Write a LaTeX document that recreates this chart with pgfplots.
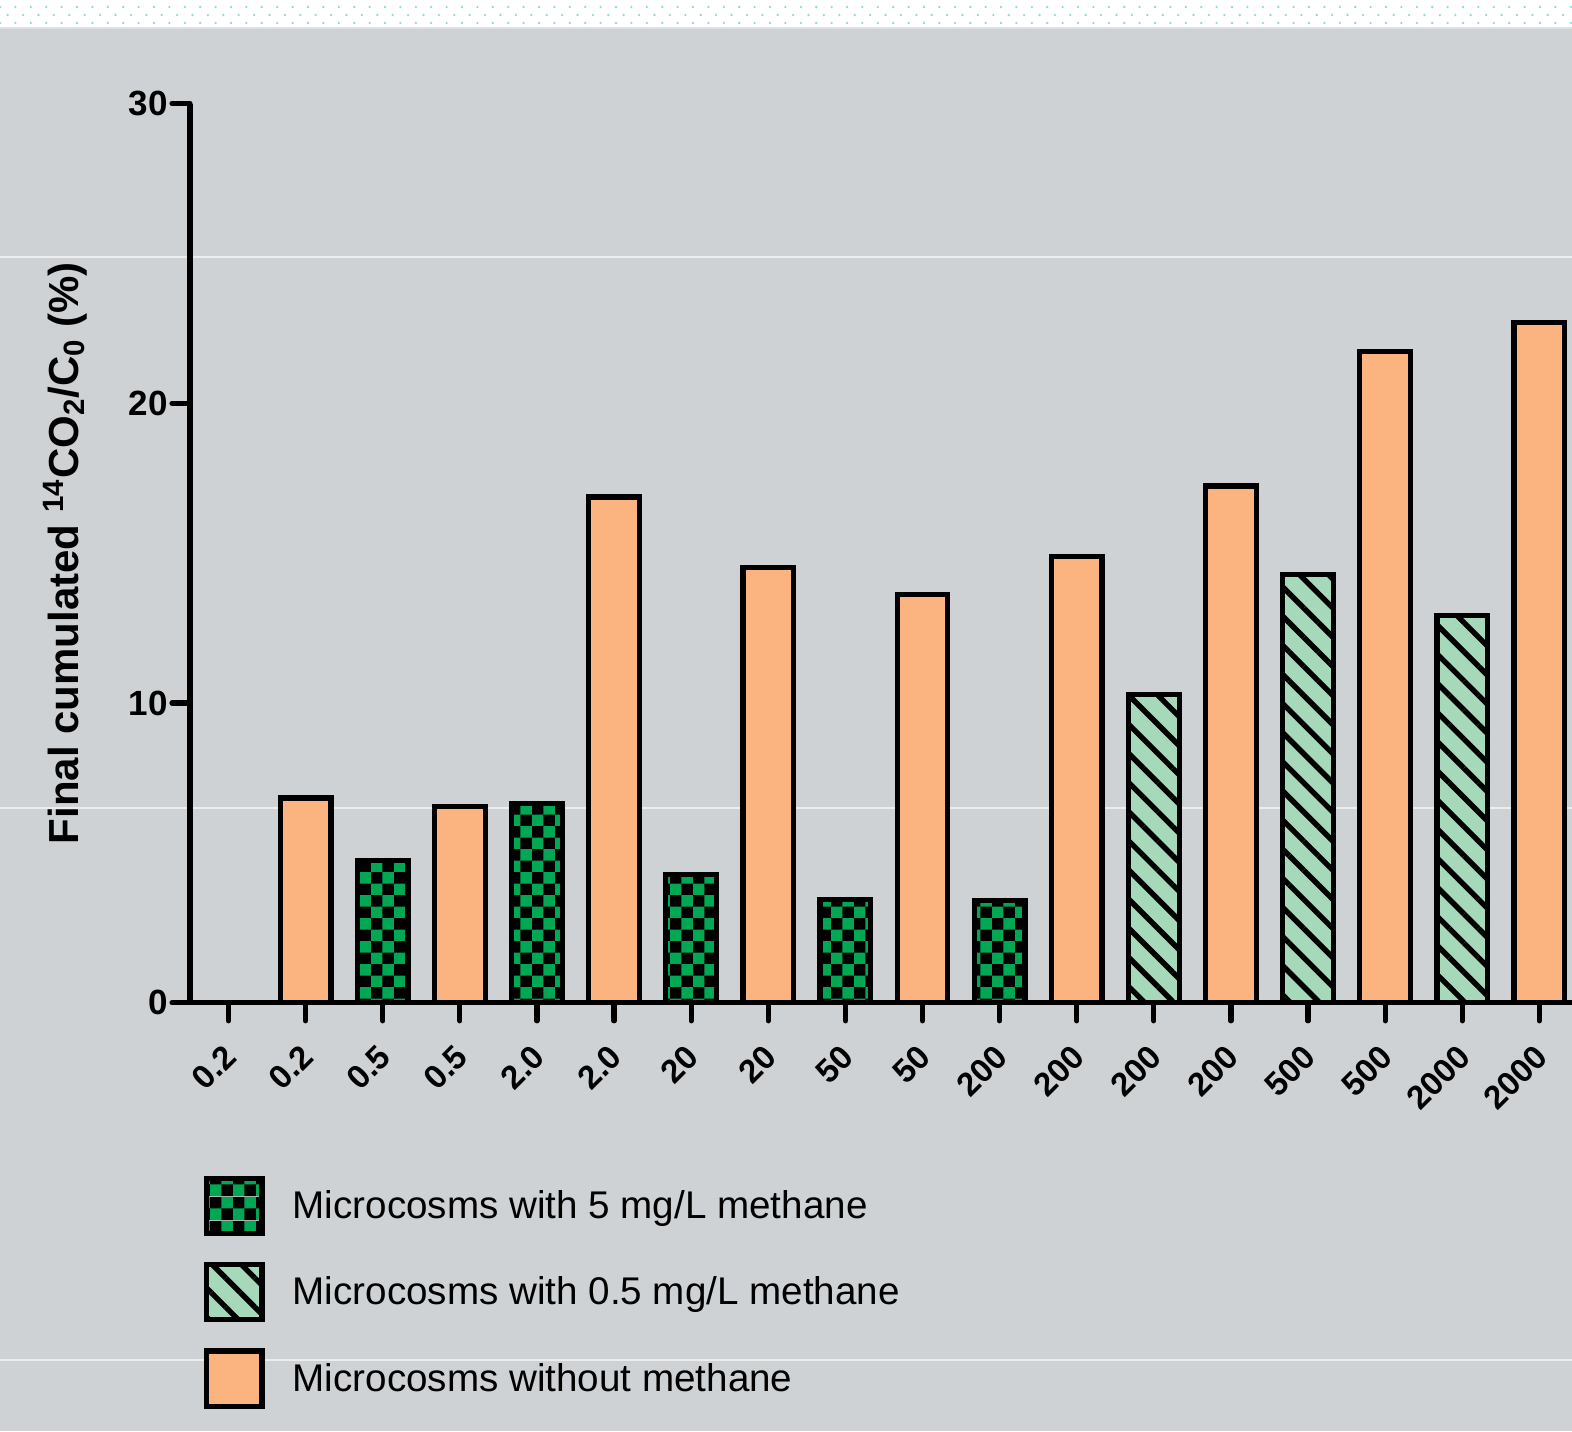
\documentclass[border=0pt]{standalone}
\usepackage{fontspec}
\setmainfont{Liberation Sans}
\usepackage{pgfplots}
\pgfplotsset{compat=1.18}
\usetikzlibrary{patterns,patterns.meta}

\definecolor{bgGray}{RGB}{206,210,213}
\definecolor{barOrange}{RGB}{251,179,128}
\definecolor{checkGreen}{RGB}{0,168,84}
\definecolor{hatchGreen}{RGB}{166,217,185}
\definecolor{dotCyan}{RGB}{150,214,220}
\definecolor{stripLine}{RGB}{222,225,227}

% black/green checkerboard used for the 5 mg/L series
\pgfdeclarepatterninherentlycolored{checker}{\pgfpointorigin}{\pgfqpoint{11.7pt}{11.7pt}}{\pgfqpoint{11.7pt}{11.7pt}}{%
  \pgfsetfillcolor{black}%
  \pgfpathrectangle{\pgfpointorigin}{\pgfqpoint{11.7pt}{11.7pt}}%
  \pgfusepath{fill}%
  \pgfsetfillcolor{checkGreen}%
  \pgfpathrectangle{\pgfpointorigin}{\pgfqpoint{5.85pt}{5.85pt}}%
  \pgfpathrectangle{\pgfqpoint{5.85pt}{5.85pt}}{\pgfqpoint{5.85pt}{5.85pt}}%
  \pgfusepath{fill}%
}

% staggered dots for the header strip
\pgfdeclarepatternformonly{stripdots}{\pgfqpoint{-1pt}{-1pt}}{\pgfqpoint{8.7pt}{9pt}}{\pgfqpoint{7.7pt}{8pt}}{%
  \pgfpathcircle{\pgfqpoint{0pt}{0pt}}{0.65pt}%
  \pgfpathcircle{\pgfqpoint{3.85pt}{4pt}}{0.65pt}%
  \pgfusepath{fill}%
}

\pgfplotstableread{
x y
0 0
2 4.75
4 6.66
6 4.29
8 3.45
10 3.41
}\withfive

\pgfplotstableread{
x y
12 10.28
14 14.30
16 12.92
}\withhalf

\pgfplotstableread{
x y
1 6.83
3 6.56
5 16.87
7 14.53
9 13.63
11 14.90
13 17.24
15 21.73
17 22.70
}\without

\pgfplotsset{
  barlegend/.style={legend image code/.code={%
      \draw[##1, line width=2.6pt] (0pt,-13.8pt) rectangle (27.6pt,13.8pt);}},
  mybar/.style={ybar, bar width=0.657, bar shift=0pt, draw=black, line width=2.6pt},
}

\begin{document}
\begin{tikzpicture}
\useasboundingbox (0pt,0pt) rectangle (786pt,715.5pt);
\clip (0pt,0pt) rectangle (786pt,715.5pt);
\fill[bgGray] (0pt,0pt) rectangle (786pt,715.5pt);
% header strip
\fill[white] (0pt,701.5pt) rectangle (786pt,715.5pt);
\fill[pattern=stripdots, pattern color=dotCyan] (0pt,701.5pt) rectangle (786pt,715.5pt);
\draw[stripLine, line width=1pt] (0pt,701.5pt) -- (786pt,701.5pt);
% faint light rules across the background
\foreach \yy in {587pt,311.5pt,35.5pt}
  \draw[white, opacity=0.6, line width=0.7pt] (0pt,\yy) -- (786pt,\yy);

\begin{axis}[
  at={(95pt,214.1pt)}, anchor=south west,
  scale only axis, width=697.8pt, height=449.65pt,
  xmin=-0.5, xmax=17.6, ymin=0, ymax=30,
  axis x line=bottom, axis y line=left,
  axis line style={-, line width=2.6pt, black},
  clip=false,
  xtick={0,...,17},
  xticklabels={0.2,0.2,0.5,0.5,2.0,2.0,20,20,50,50,200,200,200,200,500,500,2000,2000},
  ytick={0,10,20,30},
  tick align=outside,
  major tick length=9pt,
  tick style={line width=2.6pt, black, line cap=round},
  /pgf/number format/assume math mode=true,
  xticklabel style={yshift=-15pt, xshift=1pt, rotate=45, anchor=east, inner sep=0pt,
    font=\fontsize{16.5}{18}\selectfont\bfseries},
  yticklabel style={anchor=east, inner sep=0pt,
    font=\fontsize{17.5}{19}\selectfont\bfseries, xshift=-2pt},
  ylabel={Final cumulated \textsuperscript{14}CO\textsubscript{2}/C\textsubscript{0} (\%)},
  ylabel style={at={(axis description cs:-0.08,0.5)}, anchor=base, rotate=0,
    font=\fontsize{21}{24}\selectfont\bfseries},
  legend style={at={(axis cs:-0.32,-5.75)}, anchor=north west, draw=none, fill=none,
    font=\fontsize{19.3}{22}\selectfont, row sep=13pt, inner sep=0pt,
    cells={anchor=west},
    /tikz/every odd column/.append style={column sep=12pt}},
  legend cell align=left,
]
\addplot[mybar, pattern=checker, barlegend] table {\withfive};
\addlegendentry{Microcosms with 5 mg/L methane}
\addplot[mybar, preaction={fill=hatchGreen},
  pattern={Lines[angle=-45, distance=10.3pt, line width=2.7pt]}, pattern color=black,
  barlegend] table {\withhalf};
\addlegendentry{Microcosms with 0.5 mg/L methane}
\addplot[mybar, fill=barOrange, barlegend] table {\without};
\addlegendentry{Microcosms without methane}
\end{axis}
\end{tikzpicture}
\end{document}
